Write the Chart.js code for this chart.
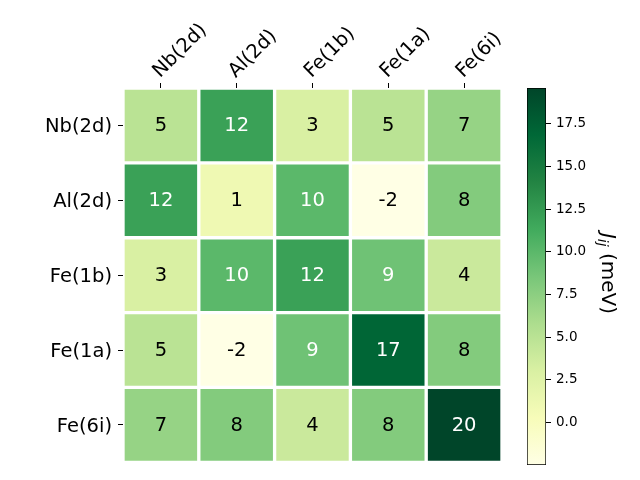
<!DOCTYPE html>
<html>
<head>
<meta charset="utf-8">
<script src="https://cdn.jsdelivr.net/npm/chart.js@4.4.0/dist/chart.umd.min.js"></script>
<style>
    body { margin: 0; background: #fff; }
    #wrap { position: relative; width: 640px; height: 480px; }
    #wrap canvas { position: absolute; left: 0; top: 0; }
</style>
</head>
<body>
<div id="wrap">
    <canvas id="heat" width="640" height="480"></canvas>
    <canvas id="cbar" width="640" height="480"></canvas>
</div>
<script>
// 사이트 라벨 (행/열 동일)
const siteLabels = ['Nb(2d)', 'Al(2d)', 'Fe(1b)', 'Fe(1a)', 'Fe(6i)'];

// J_ij 값 (meV), 위쪽 행부터
const rowNb = [5, 12, 3, 5, 7];
const rowAl = [12, 1, 10, -2.48, 8];
const rowFe1b = [3, 10, 12, 9, 4];
const rowFe1a = [5, -2.48, 9, 17, 8];
const rowFe6i = [7, 8, 4, 8, 19.6];
const jRows = [rowNb, rowAl, rowFe1b, rowFe1a, rowFe6i];

// 컬러바 범위와 눈금
const cbarMin = -2.48;
const cbarMax = 19.6;
const cbarTicks = [0, 2.5, 5, 7.5, 10, 12.5, 15, 17.5];

// YlGn 컬러맵
const ylgnStops = ['#ffffe5', '#f7fcb9', '#d9f0a3', '#addd8e', '#78c679',
                   '#41ab5d', '#238443', '#006837', '#004529'];

function hexToRgb(h) {
    return [1, 3, 5].map(i => parseInt(h.substr(i, 2), 16));
}

function ylgn(v) {
    let t = (v - cbarMin) / (cbarMax - cbarMin);
    t = Math.max(0, Math.min(1, t)) * (ylgnStops.length - 1);
    const i = Math.min(Math.floor(t), ylgnStops.length - 2);
    const f = t - i;
    const a = hexToRgb(ylgnStops[i]);
    const b = hexToRgb(ylgnStops[i + 1]);
    const c = a.map((x, k) => Math.round(x + (b[k] - x) * f));
    return `rgb(${c[0]}, ${c[1]}, ${c[2]})`;
}

Chart.defaults.font.family = '"DejaVu Sans", sans-serif';
Chart.defaults.color = '#000';

const midValue = (cbarMin + cbarMax) / 2;

// 셀 안의 숫자
const cellText = {
    id: 'cellText',
    afterDatasetsDraw(chart) {
        const ctx = chart.ctx;
        ctx.save();
        ctx.font = '19.5px "DejaVu Sans"';
        ctx.textAlign = 'center';
        ctx.textBaseline = 'middle';
        chart.data.datasets.forEach((ds, r) => {
            chart.getDatasetMeta(r).data.forEach((bar, c) => {
                const v = jRows[r][c];
                ctx.fillStyle = v > midValue ? '#fff' : '#000';
                ctx.fillText(String(Math.round(v)), bar.x, (bar.y + bar.base) / 2 + 1);
            });
        });
        ctx.restore();
    }
};

const heatDatasets = jRows.map((row, r) => ({
    data: row.map(() => [jRows.length - 1 - r, jRows.length - r]),
    backgroundColor: row.map(v => ylgn(v)),
    borderColor: '#fff',
    borderWidth: 2,
    borderSkipped: false,
    grouped: false,
    barPercentage: 1,
    categoryPercentage: 1
}));

new Chart(document.getElementById('heat'), {
    type: 'bar',
    data: { labels: siteLabels, datasets: heatDatasets },
    options: {
        responsive: false,
        animation: false,
        layout: { padding: { left: 0, right: 138, top: 0, bottom: 15 } },
        scales: {
            x: {
                position: 'top',
                ticks: { font: { size: 19.5 }, minRotation: 45, maxRotation: 45, padding: 0, labelOffset: 12 },
                grid: { offset: false, drawOnChartArea: false, tickLength: 5, color: '#000' },
                border: { display: false },
                afterFit: s => { s.height = 88; }
            },
            y: {
                min: 0,
                max: 5,
                afterBuildTicks: s => { s.ticks = [0.5, 1.5, 2.5, 3.5, 4.5].map(v => ({ value: v })); },
                ticks: {
                    font: { size: 19.5 },
                    padding: 6,
                    labelOffset: 2,
                    callback: (v, i) => siteLabels[siteLabels.length - 1 - i]
                },
                grid: { drawOnChartArea: false, tickLength: 5, color: '#000' },
                border: { display: false },
                afterFit: s => { s.width = 123; }
            }
        },
        plugins: { legend: { display: false }, tooltip: { enabled: false } }
    },
    plugins: [cellText]
});

// 컬러바 제목 (J_ij (meV))
const cbarTitle = {
    id: 'cbarTitle',
    afterDraw(chart) {
        const ctx = chart.ctx;
        const area = chart.chartArea;
        const parts = [
            { t: 'J', font: 'italic 20px "DejaVu Sans"', dy: 0 },
            { t: 'ij', font: 'italic 14px "DejaVu Sans"', dy: 4 },
            { t: ' (meV)', font: '20px "DejaVu Sans"', dy: 0 }
        ];
        ctx.save();
        let total = 0;
        parts.forEach(p => { ctx.font = p.font; p.w = ctx.measureText(p.t).width; total += p.w; });
        ctx.translate(area.right + 63, (area.top + area.bottom) / 2);
        ctx.rotate(Math.PI / 2);
        ctx.textBaseline = 'alphabetic';
        ctx.textAlign = 'left';
        ctx.fillStyle = '#000';
        let x = -total / 2 - 3;
        parts.forEach(p => {
            ctx.font = p.font;
            ctx.fillText(p.t, x, 7 + p.dy);
            x += p.w;
        });
        ctx.restore();
    }
};

new Chart(document.getElementById('cbar'), {
    type: 'bar',
    data: {
        labels: [''],
        datasets: [{
            data: [[cbarMin, cbarMax]],
            backgroundColor: (c) => {
                const chart = c.chart;
                if (!chart.chartArea) return null;
                const y = chart.scales.y;
                const g = chart.ctx.createLinearGradient(0, y.getPixelForValue(cbarMin), 0, y.getPixelForValue(cbarMax));
                ylgnStops.forEach((col, i) => g.addColorStop(i / (ylgnStops.length - 1), col));
                return g;
            },
            borderColor: '#000',
            borderWidth: 1,
            borderSkipped: false,
            barPercentage: 1,
            categoryPercentage: 1
        }]
    },
    options: {
        responsive: false,
        animation: false,
        layout: { padding: { left: 527, right: 34, top: 88, bottom: 15 } },
        scales: {
            x: { display: false },
            y: {
                position: 'right',
                min: cbarMin,
                max: cbarMax,
                afterBuildTicks: s => { s.ticks = cbarTicks.map(v => ({ value: v })); },
                ticks: { font: { size: 13.5 }, padding: 5, callback: v => v.toFixed(1) },
                grid: { drawOnChartArea: false, tickLength: 5, color: '#000' },
                border: { display: false },
                afterFit: s => { s.width = 60; }
            }
        },
        plugins: { legend: { display: false }, tooltip: { enabled: false } }
    },
    plugins: [cbarTitle]
});
</script>
</body>
</html>
